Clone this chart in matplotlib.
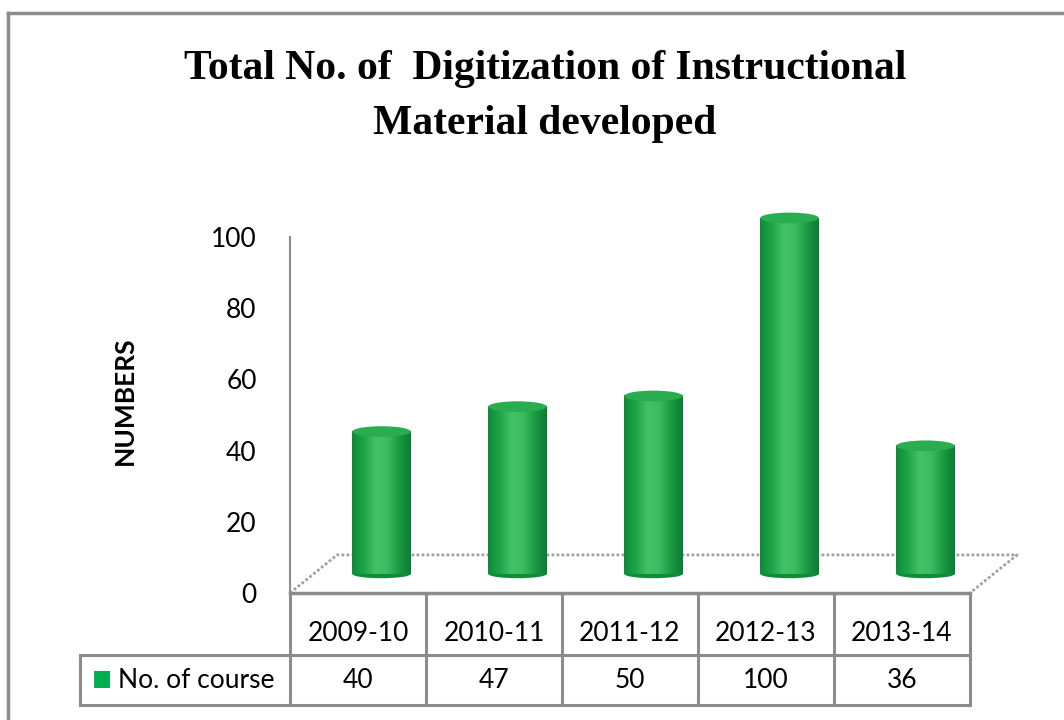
import numpy as np
import matplotlib.pyplot as plt
from matplotlib.colors import LinearSegmentedColormap
from matplotlib.patches import Polygon, Ellipse, Rectangle
import matplotlib.transforms as mtransforms

# data
categories = ["2009-10", "2010-11", "2011-12", "2012-13", "2013-14"]
values = [40, 47, 50, 100, 36]
series_name = "No. of course"
title = "Total No. of  Digitization of Instructional\nMaterial developed"
y_ticks = [0, 20, 40, 60, 80, 100]

GRID = "#8c8c8c"
GREEN = "#00b050"
cyl_cmap = LinearSegmentedColormap.from_list(
    "cyl", ["#0d8a38", "#1ea548", "#45c266", "#3cbb5e", "#1a9a43", "#0b7c32"])

fig = plt.figure(figsize=(10.64, 7.2), dpi=100)
ax = fig.add_axes([290 / 1064, 127 / 720, 680 / 1064, 356 / 720])
ax.set_xlim(-0.5, len(categories) - 0.5)
ax.set_ylim(0, 100)

# 3d depth of the floor, in data units
DX, DY = 0.346, 10.7

for s in ["top", "right", "bottom"]:
    ax.spines[s].set_visible(False)
ax.spines["left"].set_color(GRID)
ax.spines["left"].set_linewidth(1.5)
ax.set_xticks([])
ax.set_yticks(y_ticks)
ax.tick_params(axis="y", length=0, pad=24, labelsize=19)
for lab in ax.get_yticklabels():
    lab.set_fontfamily("Lato")

# floor
x0, x1 = -0.5, len(categories) - 0.5
floor = Polygon([(x0, 0), (x1, 0), (x1 + DX, DY), (x0 + DX, DY)], closed=True,
                facecolor="white", edgecolor="none", clip_on=False, zorder=1)
ax.add_patch(floor)
ax.plot([x0, x0 + DX, x1 + DX, x1], [0, DY, DY, 0], color="#a0a0a0", lw=2,
        ls=(0, (1, 0.8)), clip_on=False, zorder=2)
ax.plot([x0, x1], [0, 0], color=GRID, lw=2.5, clip_on=False, zorder=2)

# cylinders
w = 0.43
grad = np.linspace(0, 1, 256).reshape(1, -1)
for i, v in enumerate(values):
    cx = i + DX / 2
    b = DY / 2
    t = v + DY / 2
    ax.add_patch(Ellipse((cx, b), w, 2.4, facecolor="#0f8c3a", edgecolor="none",
                         zorder=3, clip_on=False))
    ax.imshow(grad, cmap=cyl_cmap, extent=[cx - w / 2, cx + w / 2, b, t],
              aspect="auto", zorder=4, clip_on=False)
    ax.add_patch(Ellipse((cx, t), w, 3.0, facecolor="#2aad50", edgecolor="none",
                         zorder=5, clip_on=False))
ax.set_xlim(x0, x1)
ax.set_ylim(0, 100)

# data table under the chart
tr = mtransforms.blended_transform_factory(ax.transData, ax.transAxes)
r1, r2 = -0.174, -0.315
label_left = -2.044
kw = dict(color=GRID, lw=2.2, transform=tr, clip_on=False, zorder=2)
for i in range(len(categories) + 1):
    ax.plot([i - 0.5, i - 0.5], [0, r2], **kw)
ax.plot([label_left, x1], [r1, r1], **kw)
ax.plot([label_left, x1], [r2, r2], **kw)
ax.plot([label_left, label_left], [r1, r2], **kw)
for i, (c, v) in enumerate(zip(categories, values)):
    ax.text(i, -0.115, c, transform=tr, ha="center", va="center",
            fontsize=19, family="Lato")
    ax.text(i, -0.245, str(v), transform=tr, ha="center", va="center",
            fontsize=19, family="Lato")
ax.add_patch(Rectangle((-1.94, -0.268), 0.115, 0.05, transform=tr,
                       facecolor=GREEN, edgecolor="none", clip_on=False))
ax.text(-1.765, -0.245, series_name, transform=tr, ha="left", va="center",
        fontsize=19, family="Lato")

# axis label, title, outer frame
fig.text(0.1175, 0.444, "NUMBERS", rotation=90, ha="center", va="center",
         fontsize=19, fontweight="bold", family="Lato")
fig.text(0.512, 0.866, title, ha="center", va="center", fontsize=30,
         fontweight="bold", family="Liberation Serif", linespacing=1.58)
fig.add_artist(plt.Line2D([8 / 1064, 8 / 1064], [0, 1 - 13 / 720],
                          color="#8c8c8c", lw=2.5, transform=fig.transFigure))
fig.add_artist(plt.Line2D([8 / 1064, 1], [1 - 13 / 720, 1 - 13 / 720],
                          color="#8c8c8c", lw=2.5, transform=fig.transFigure))

fig.savefig("out.png", dpi=100)
